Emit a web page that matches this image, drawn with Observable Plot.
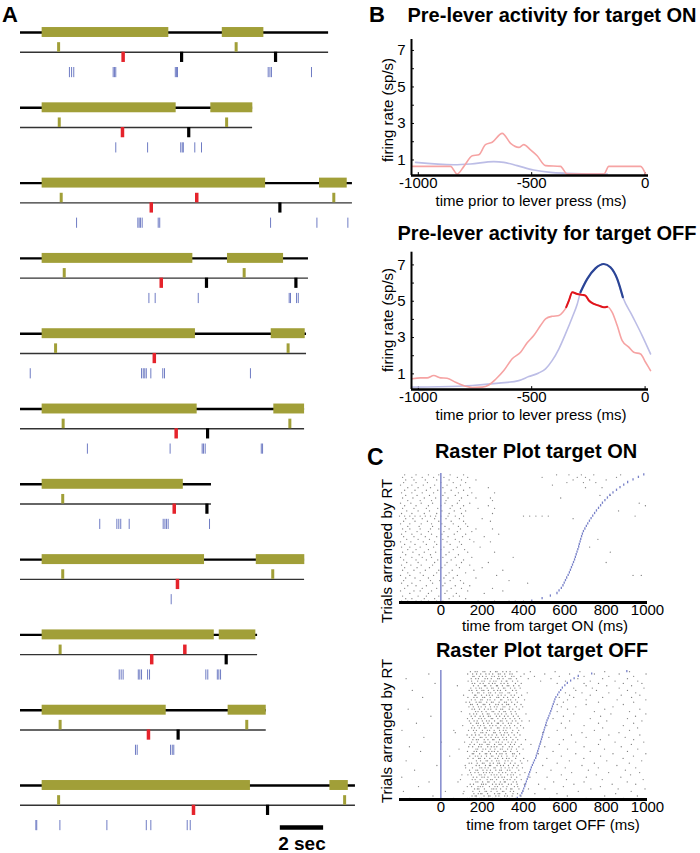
<!DOCTYPE html>
<html><head><meta charset="utf-8">
<script src="https://cdn.jsdelivr.net/npm/d3@7"></script>
<script src="https://cdn.jsdelivr.net/npm/@observablehq/plot@0.6"></script>
<style>
body{margin:0;background:#fff;}
#fig{position:relative;width:700px;height:853px;overflow:hidden;background:#fff;font-family:"Liberation Sans",Arial,sans-serif;}
#fig svg{position:absolute;background:transparent;}
</style></head><body><div id="fig"></div>
<script>
// ---------------- Panel A data (seconds) ----------------
const trialEnd = [14.23, 10.72, 15.33, 13.30, 13.21, 13.12, 8.82, 13.12, 10.95, 11.35, 15.47];
const holdBars = [[1.00,6.85],[1.00,7.19],[1.00,11.32],[1.00,7.96],[1.00,8.08],[1.00,8.16],[1.00,7.52],[1.00,8.50],[1.00,8.95],[1.00,6.73],[1.00,10.62]];
const targetBars = [[9.32,11.24],[8.79,10.73],[13.81,15.09],[9.56,12.15],[11.58,13.15],[11.70,13.12],[],[10.89,13.13],[9.18,10.87],[9.59,11.35],[14.29,15.14]];
const cueTimes = [[1.76,9.96],[1.79,9.52],[1.88,14.47],[2.02,10.33],[1.62,12.36],[1.97,12.44],[1.95],[1.95,11.65],[1.83],[1.83,10.45],[1.76,14.97]];
const redUpperTimes = [[],[],[8.14],[],[],[],[],[],[7.59],[],[]];
const redLowerTimes = [[4.74],[4.71],[6.04],[6.50],[6.18],[7.19],[7.10],[7.25],[6.06],[5.91],[7.99]];
const blackTimes = [[7.44,11.78],[7.77],[11.98],[8.59,12.72],[],[8.64],[8.61],[],[9.50],[7.28],[11.41]];
const spikeTimesA = [
  [2.26,2.36,2.46,4.28,4.34,4.40,7.15,7.21,7.25,11.44,11.52,11.59,13.44],
  [4.40,5.87,7.40,7.47,7.52,8.05,8.36],
  [2.59,5.42,5.48,5.54,5.62,6.36,6.43,11.55,13.69,15.12],
  [5.93,6.22,8.21,12.41,12.47,12.75,12.83],
  [0.45,5.59,5.67,5.74,5.81,6.02,6.57,6.65,10.62],
  [3.09,6.91,8.39,8.45,8.53,11.12,11.18],
  [3.66,4.45,4.54,4.63,5.02,6.59,6.67,6.74,6.82,8.73],
  [6.96],
  [4.56,4.65,4.74,5.44,5.51,5.59,5.87,5.96,8.56,8.65,9.09,9.16,9.24],
  [5.31,5.39,6.93,7.01,7.08],
  [0.71,0.75,1.82,3.99,5.81,6.02,7.70,7.84]
];
const scaleBarSec = [12, 14];
const scaleBarLabel = "2 sec";

// ---------------- Panel B data (ms, sp/s) ----------------
const redOn = [[-1027,0.65],[-858,0.65],[-829,0.23],[-799,0.65],[-762,1.23],[-733,1.29],[-704,1.84],[-674,1.97],[-630,2.46],[-593,1.91],[-557,1.69],[-535,1.84],[-505,1.55],[-476,1.23],[-439,0.69],[-373,0.65],[-344,0.23],[-182,0.23],[-160,0.65],[-20,0.65],[2,0.23]];
const blueOn = [[-1012,0.87],[-843,0.74],[-770,0.78],[-667,0.91],[-623,0.87],[-564,0.69],[-491,0.45],[-417,0.32],[-344,0.27],[-226,0.23],[-167,0.23]];
const redOff = [[-1027,0.73],[-990,0.78],[-961,0.78],[-932,0.91],[-902,0.78],[-873,0.76],[-836,0.54],[-792,0.32],[-762,0.25],[-718,0.27],[-689,0.39],[-660,0.69],[-623,1.18],[-586,1.83],[-549,2.19],[-520,2.71],[-491,3.11],[-461,3.66],[-439,4.03],[-410,4.17],[-380,4.21],[-363,4.39],[-348,4.67],[-336,5.04],[-321,5.49],[-299,5.40],[-277,5.35],[-263,5.31],[-248,5.04],[-226,4.85],[-204,4.76],[-182,4.67],[-167,4.70],[-145,4.39],[-123,3.66],[-101,2.83],[-72,2.47],[-50,2.19],[-20,2.10],[2,1.64],[24,1.18]];
const blueOff = [[-1027,0.27],[-910,0.29],[-762,0.36],[-645,0.49],[-557,0.63],[-513,0.85],[-469,1.05],[-439,1.28],[-410,1.73],[-380,2.38],[-351,3.2],[-321,4.12],[-299,4.85],[-285,5.49],[-255,6.23],[-219,6.81],[-182,7.05],[-153,6.87],[-123,6.23],[-98,5.22],[-57,4.21],[-13,3.11],[24,2.10]];
const redOffDark = [-348, -167];
const blueOffDark = [-285, -98];
const bXTicks = [-1000, -500, 0];
const bYTicks = [1, 3, 5, 7];

// ---------------- Panel C data (ms) ----------------
const cXTicks = [0, 200, 400, 600, 800, 1000];
const rtOn = [440,490,530,562,572,583,591,597,603,609,616,622,627,632,637,642,647,651,655,659,663,667,670,674,677,681,685,690,697,704,711,719,727,735,744,753,763,773,782,794,806,818,833,850,867,885,904,930,956,982];
const spikesOn = [
[-190,-160,-120,-95,-60,-20,10,180,260,330,360,400],
[-170,-140,-80,-30,40,120],
[-185,-110,-70,-10,60,90],
[-150,-60,20,75,210],
[-195,-130,-100,-45,30,130,300],
[-175,-90,-20,50,100,250],
[-160,-120,-70,10,70,140],
[-190,-140,-40,20,110,420],
[-180,-100,-50,-5,45,95,330],
[-170,-125,-60,15,60,170],
[-195,-150,-85,-35,25,80,270,930,970],
[-160,-100,-20,40,120],
[-185,-130,-75,-10,55,160,300],
[-175,-115,-55,5,90,200],
[-190,-145,-95,-40,20,75,140],
[-165,-110,-30,30,100,230,800],
[-180,-120,-70,-15,50,110],
[-195,-140,-90,-45,10,70,150,350],
[-170,-105,-50,25,85],
[-185,-135,-80,-25,40,130,260,820],
[-160,-120,-60,0,60,115],
[-190,-150,-100,-35,15,80,190,720],
[-175,-125,-70,-20,45,100],
[-195,-145,-85,-30,30,90,160,240],
[-165,-110,-55,10,70,140,760],
[-180,-130,-75,-20,35,105,210],
[-190,-140,-95,-45,5,65,120,280],
[-170,-115,-60,15,80,150],
[-185,-150,-100,-50,-10,40,95,170,250],
[-160,-105,-40,20,85,130],
[-195,-150,-95,-45,5,60,120],
[-180,-125,-65,-10,50,110,240],
[-170,-135,-90,-30,25,90,200,640],
[-200,-175,-150,-125,-100,-75,-50,-25,0,35,70,110,400,430,460,490,520,940],
[-190,-140,-80,-20,40,100,250],
[-165,-110,-55,5,65,120,860],
[-185,-130,-70,-15,45,95,180,260],
[-175,-120,-60,0,55,110,230,990],
[-195,-145,-95,-40,20,80,140,960],
[-160,-100,-45,25,90,250],
[-185,-135,-80,-25,35,100,170,240,580],
[-170,-115,-55,10,70,130,770,820],
[-190,-140,-90,-35,20,85,150,260],
[-175,-125,-70,-15,50,110],
[-160,-110,-50,10,75,140,230,700,780],
[-195,-140,-85,-30,30,95,540],
[-180,-120,-65,0,60,120,610,690,750],
[-170,-130,-75,-20,40,100,170,640,720,800],
[-185,-140,-90,-35,15,80,130,490,660,700,850],
[-175,-120,-60,-10,45,110,560,620,680,740,870]
];
const rtOff = [370,384,392,397,401,406,410,414,418,422,426,430,434,438,443,448,453,459,462,466,469,473,476,480,483,487,490,493,497,500,503,507,510,514,519,523,528,532,536,540,544,548,552,557,565,572,580,588,600,612,628,645,665,730,900];
const spikesOff = [
[-150,62,128,139,171,188,196,229,251,262,290,318,331,362,527,703,884],
[-38,151,166,172,209,231,238,266,281,309,322,345,388,612,793,951],
[108,160,181,193,199,226,260,277,285,314,349,371,455,562,846],
[-181,22,112,155,187,214,221,243,272,298,305,336,352,397,665,921],
[163,177,184,211,247,256,268,289,317,338,344,378,424,504,726,858,988],
[-108,128,149,180,191,203,235,262,274,301,320,356,372,593,772],
[142,158,197,206,218,250,267,283,296,327,341,369,404,473,644,829,943],
[-57,83,170,179,202,227,233,259,288,307,312,350,366,546,693,902],
[95,152,166,190,224,241,249,270,304,321,335,358,389,608,781,979],
[-189,157,174,199,210,228,262,279,296,308,341,367,431,514,704,871],
[102,131,148,186,195,213,244,258,271,290,323,339,351,383,583,752,918],
[144,165,181,207,220,236,249,281,299,314,344,360,407,462,633,812,962],
[-127,139,170,178,204,223,240,266,285,293,322,334,377,533,714,893],
[120,153,189,198,214,229,257,263,292,311,330,346,368,395,602,762,943],
[-19,118,171,186,216,235,241,272,289,303,327,352,374,493,683,852],
[137,149,176,201,209,238,254,276,284,309,337,359,392,563,743,912],
[-168,172,192,219,226,247,270,281,311,325,344,385,420,622,803,972],
[131,156,183,190,212,237,263,275,299,318,330,362,401,513,692,882],
[43,140,167,179,196,221,245,252,279,294,320,349,366,583,773,932],
[152,159,188,215,222,240,269,286,296,316,347,355,381,472,653,833,992],
[-98,129,161,173,200,232,247,259,276,305,314,338,370,543,723,903],
[88,170,178,204,217,239,262,288,297,323,341,366,398,613,792,953],
[-152,135,154,183,195,227,244,258,271,300,331,345,378,503,693,873],
[141,162,188,199,224,233,260,282,291,312,337,356,389,436,573,763,922],
[3,115,149,176,209,216,237,268,279,297,326,343,361,483,653,843,982],
[155,172,181,210,228,251,257,284,306,318,349,372,410,593,772,933],
[-82,138,160,191,199,219,243,265,277,300,317,338,364,523,703,892],
[127,150,168,185,214,232,248,270,293,305,328,355,383,632,813,963],
[70,165,194,203,220,256,263,287,309,321,344,371,493,683,862],
[-188,63,134,158,172,201,225,236,258,284,302,315,348,377,563,743,913],
[149,163,186,212,218,243,274,281,305,320,336,369,400,603,783,952],
[106,155,179,192,209,237,251,267,290,311,333,357,386,513,693,883],
[-118,145,172,181,207,228,246,273,279,301,327,340,373,583,763,933],
[138,161,176,201,221,234,260,288,296,319,346,363,392,428,623,803,973],
[129,153,184,196,213,244,251,276,300,313,335,358,381,543,723,903],
[-48,147,166,190,206,230,239,269,285,308,325,351,374,593,773,942],
[140,159,173,202,225,233,262,277,294,316,342,365,412,643,823,992],
[99,168,180,198,219,248,256,283,305,312,339,360,563,743,913],
[-158,151,163,187,211,229,242,268,290,299,331,348,379,613,793,963],
[136,157,182,195,216,240,259,272,301,310,334,366,396,583,653,833],
[144,152,177,205,213,236,266,278,297,319,328,357,388,563,703,883],
[122,139,171,186,194,222,245,253,282,308,317,343,370,593,763,933],
[148,166,193,200,226,238,261,289,295,326,338,362,405,613,703,853,992],
[-88,131,160,175,203,212,239,271,280,304,323,349,376,573,643,783,923],
[110,164,169,197,221,235,249,277,292,311,340,356,391,623,723,873,963],
[153,178,185,208,232,241,264,286,296,325,333,367,418,603,683,813,943],
[-138,137,150,174,199,208,230,257,275,288,314,347,364,653,753,903],
[145,170,187,196,224,246,253,279,303,310,337,358,384,643,733,863,983],
[80,158,181,211,217,242,269,274,298,321,329,352,378,703,803,923],
[-28,152,164,190,205,233,250,262,291,306,324,361,389,563,693,763,883,973],
[132,149,178,199,210,238,256,267,294,316,320,347,372,483,603,723,843,953],
[-168,147,169,182,214,226,244,275,283,301,330,339,366,423,533,663,783,903],
[155,161,186,202,219,247,259,280,297,312,343,354,387,453,573,693,813,933],
[-58,130,154,173,193,218,234,251,278,287,309,334,345,403,503,623,743,863,993],
[143,166,176,204,213,240,265,272,300,317,335,368,433,553,673,793,913]
];

// ---------------- Build ----------------
const fig = document.getElementById("fig");
const FONT = '"Liberation Sans", Arial, Helvetica, sans-serif';
function place(svg, left, top) {
  svg.style.position = "absolute";
  svg.style.left = left + "px";
  svg.style.top = top + "px";
  svg.style.background = "transparent";
  svg.style.overflow = "visible";
  svg.style.maxWidth = "none";
  fig.appendChild(svg);
}
const baseStyle = {fontFamily: FONT, fontSize: "15px", background: "transparent", color: "#000", overflow: "visible"};

const OLIVE = "#a19f38", RED = "#e5232b", SPIKE = "#6f7cc4";
const flat = (arr) => arr.flatMap((ts, i) => ts.map(t => ({i, t})));
const lineRows = trialEnd.map((end, i) => ({i, end}));
const barRows = [...holdBars.map((b, i) => ({i, b})), ...targetBars.map((b, i) => ({i, b}))]
  .filter(d => d.b.length === 2).map(d => ({i: d.i, start: d.b[0], end: d.b[1]}));

// Panel A
const plotA = Plot.plot({
  width: 360, height: 853, margin: 0, style: baseStyle,
  x: {domain: [0, 15.5], range: [20, 355.6], axis: null},
  y: {domain: [0, 10], range: [32, 785], axis: null},
  marks: [
    Plot.ruleY(lineRows, {y: "i", x1: 0, x2: "end", stroke: "#000", strokeWidth: 2.4}),
    Plot.ruleY(lineRows, {y: d => d.i + 0.262, x1: 0, x2: "end", stroke: "#333", strokeWidth: 1.4}),
    Plot.rect(barRows, {x1: "start", x2: "end", y1: d => d.i - 0.066, y2: d => d.i + 0.066, fill: OLIVE}),
    Plot.ruleX(flat(cueTimes), {x: "t", y1: d => d.i + 0.135, y2: d => d.i + 0.262, stroke: OLIVE, strokeWidth: 3}),
    Plot.ruleX(flat(redUpperTimes), {x: "t", y1: d => d.i + 0.135, y2: d => d.i + 0.262, stroke: RED, strokeWidth: 3.5}),
    Plot.ruleX(flat(redLowerTimes), {x: "t", y1: d => d.i + 0.262, y2: d => d.i + 0.398, stroke: RED, strokeWidth: 3.5}),
    Plot.ruleX(flat(blackTimes), {x: "t", y1: d => d.i + 0.262, y2: d => d.i + 0.398, stroke: "#000", strokeWidth: 3.2}),
    Plot.ruleX(flat(spikeTimesA), {x: "t", y1: d => d.i + 0.465, y2: d => d.i + 0.6, stroke: SPIKE, strokeWidth: 1}),
    Plot.ruleY([10.558], {x1: scaleBarSec[0], x2: scaleBarSec[1], stroke: "#000", strokeWidth: 4.5}),
    Plot.text([scaleBarLabel], {x: (scaleBarSec[0] + scaleBarSec[1]) / 2, y: 10.777, text: d => d, fontSize: 19, fontWeight: "bold", fill: "#000"})
  ]
});
place(plotA, 0, 0);

// Panel B
const toXY = arr => arr.map(([t, v]) => ({t, v}));
function rateMarks(yDom, extra) {
  return [
    Plot.ruleY(d3.range(1, 8), {x1: -1030, x2: -1017, stroke: "#000", strokeWidth: 1}),
    Plot.ruleX(bXTicks, {y1: yDom[0], y2: yDom[0] + 0.16, stroke: "#000", strokeWidth: 1}),
    ...extra,
    Plot.ruleX([-1030], {y1: yDom[0], y2: yDom[1], stroke: "#000", strokeWidth: 2}),
    Plot.ruleY([yDom[0]], {x1: -1030, x2: 15, stroke: "#000", strokeWidth: 2.5}),
    Plot.axisY({ticks: bYTicks, tickSize: 0, tickPadding: 6, tickFormat: d => String(d), fontSize: 15, label: null}),
    Plot.axisX({ticks: bXTicks, tickSize: 0, tickPadding: 2, tickFormat: d => String(d), fontSize: 15, label: null})
  ];
}
const LRED = "#f6a3a3", DRED = "#e0141c", LBLUE = "#bcbde6", DBLUE = "#2b4596";
const plotB1 = Plot.plot({
  width: 340, height: 180, style: baseStyle,
  marginLeft: 51, marginRight: 52, marginTop: 14, marginBottom: 30,
  x: {domain: [-1030, 15]},
  y: {domain: [0.15, 7.6]},
  marks: rateMarks([0.15, 7.6], [
    Plot.line(toXY(blueOn), {x: "t", y: "v", stroke: LBLUE, strokeWidth: 1.6, curve: "monotone-x"}),
    Plot.line(toXY(redOn), {x: "t", y: "v", stroke: LRED, strokeWidth: 1.6, curve: "monotone-x"})
  ])
});
place(plotB1, 360, 25);

const plotB2 = Plot.plot({
  width: 340, height: 180, style: baseStyle,
  marginLeft: 51, marginRight: 52, marginTop: 11.7, marginBottom: 31,
  x: {domain: [-1030, 15]},
  y: {domain: [0.14, 7.7]},
  marks: rateMarks([0.14, 7.7], [
    Plot.line(toXY(blueOff), {x: "t", y: "v", stroke: LBLUE, strokeWidth: 1.6, curve: "monotone-x"}),
    Plot.line(toXY(redOff), {x: "t", y: "v", stroke: LRED, strokeWidth: 1.6, curve: "monotone-x"}),
    Plot.line(toXY(blueOff).filter(d => d.t >= blueOffDark[0] && d.t <= blueOffDark[1]), {x: "t", y: "v", stroke: DBLUE, strokeWidth: 2.2, curve: "monotone-x"}),
    Plot.line(toXY(redOff).filter(d => d.t >= redOffDark[0] && d.t <= redOffDark[1]), {x: "t", y: "v", stroke: DRED, strokeWidth: 2, curve: "monotone-x"})
  ])
});
place(plotB2, 360, 240);

// Panel C
function raster(spikes, rts) {
  const n = rts.length;
  const dots = spikes.flatMap((ts, i) => ts.map(t => ({t, y: i + 0.5})));
  const rtRows = rts.map((rt, i) => ({rt, i}));
  return Plot.plot({
    width: 340, height: 165, style: baseStyle,
    marginLeft: 39, marginRight: 53, marginTop: 8, marginBottom: 28,
    x: {domain: [-200, 1000]},
    y: {domain: [0, n], axis: null},
    marks: [
      Plot.dot(dots, {x: "t", y: "y", r: 0.65, fill: "#555", fillOpacity: 0.75}),
      Plot.ruleX([0], {y1: 0, y2: n, stroke: "#8189cc", strokeWidth: 1.5}),
      Plot.ruleX(rtRows, {x: "rt", y1: d => d.i + 0.05, y2: d => d.i + 0.95, stroke: "#7881c8", strokeWidth: 1.3}),
      Plot.ruleY([0], {x1: -200, x2: 1000, stroke: "#000", strokeWidth: 2.8}),
      Plot.axisX({ticks: cXTicks, tickSize: 0, tickPadding: 2, tickFormat: d => String(d), fontSize: 15, label: null})
    ]
  });
}
place(raster(spikesOn, rtOn), 360, 465);
place(raster(spikesOff, rtOff), 360, 662);

// Text overlay (titles, panel letters, axis labels)
const texts = [
  {s: "A", x: 2, y: 22, size: 22, bold: true, anchor: "start"},
  {s: "B", x: 369, y: 22, size: 22, bold: true, anchor: "start"},
  {s: "C", x: 367, y: 465, size: 23, bold: true, anchor: "start"},
  {s: "Pre-lever activity for target ON", x: 552, y: 22, size: 20, bold: true},
  {s: "Pre-lever activity for target OFF", x: 547, y: 240, size: 20, bold: true},
  {s: "time prior to lever press (ms)", x: 531, y: 206, size: 15},
  {s: "time prior to lever press (ms)", x: 531, y: 420, size: 15},
  {s: "firing rate (sp/s)", x: 393, y: 110, size: 15, rot: true},
  {s: "firing rate (sp/s)", x: 393, y: 320, size: 15, rot: true},
  {s: "Raster Plot target ON", x: 536, y: 458, size: 20, bold: true},
  {s: "Raster Plot target OFF", x: 542, y: 657, size: 20, bold: true},
  {s: "time from target ON (ms)", x: 545, y: 631, size: 15},
  {s: "time from target OFF (ms)", x: 553, y: 830, size: 15},
  {s: "Trials arranged by RT", x: 392, y: 551, size: 15, rot: true},
  {s: "Trials arranged by RT", x: 392, y: 731, size: 15, rot: true}
];
const overlay = d3.create("svg").attr("width", 700).attr("height", 853)
  .style("position", "absolute").style("left", "0px").style("top", "0px").style("pointer-events", "none");
overlay.selectAll("text").data(texts).join("text")
  .attr("transform", d => `translate(${d.x},${d.y})` + (d.rot ? " rotate(-90)" : ""))
  .attr("text-anchor", d => d.anchor || "middle")
  .attr("font-family", FONT)
  .attr("font-size", d => d.size)
  .attr("font-weight", d => d.bold ? "bold" : "normal")
  .attr("fill", "#000")
  .text(d => d.s);
fig.appendChild(overlay.node());
</script>
</body></html>
